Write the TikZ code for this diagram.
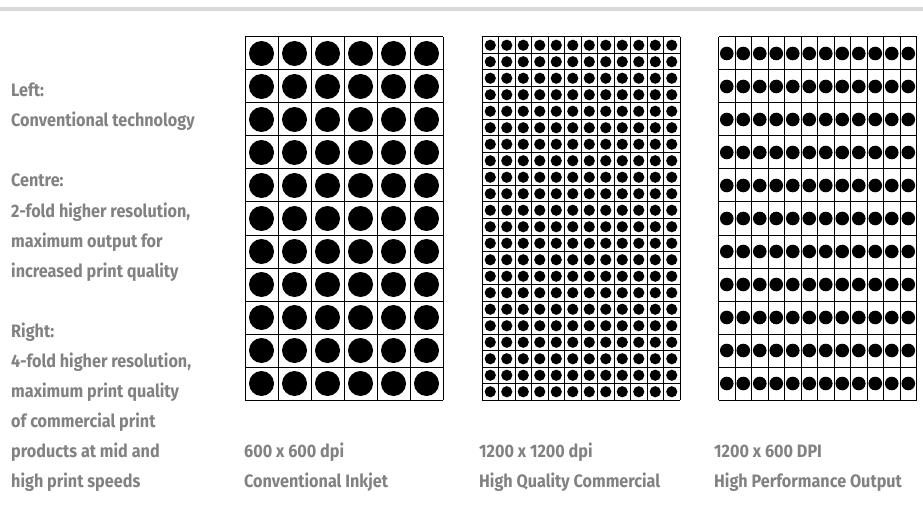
\documentclass[tikz,border=0pt]{standalone}
\usepackage{fontspec}
\setmainfont{Fira Sans}[FakeStretch=0.9]
\definecolor{txtgray}{RGB}{130,130,130}
\definecolor{rulegray}{RGB}{218,218,218}
\tikzset{
  lab/.style={anchor=base west, inner sep=0pt, text=txtgray, font=\fontsize{18}{20}\selectfont\bfseries},
  gridline/.style={line width=1pt, black},
  dotfill/.style={fill=black}
}
\begin{document}
\begin{tikzpicture}[x=1pt,y=-1pt]
\useasboundingbox (0,0) rectangle (923,513);
\fill[white] (0,0) rectangle (923,513);
\draw[rulegray, line width=3.5pt] (0,9) -- (923,9);

% Grid 1: 600 x 600
\foreach \i in {0,...,5}
  \foreach \j in {0,...,10}
    \fill[dotfill] (245+16.5+33*\i, 37+16.5+33*\j) circle[radius=12.5];
\foreach \i in {0,...,6}
  \draw[gridline] (245+33*\i,37) -- (245+33*\i,400);
\foreach \j in {0,...,11}
  \draw[gridline] (245,37+33*\j) -- (443,37+33*\j);

% Grid 2: 1200 x 1200
\foreach \i in {0,...,11}
  \foreach \j in {0,...,21}
    \fill[dotfill] (482+8.25+16.5*\i, 37+8.25+16.5*\j) circle[radius=5.6];
\foreach \i in {0,...,12}
  \draw[gridline] (482+16.5*\i,37) -- (482+16.5*\i,400);
\foreach \j in {0,...,22}
  \draw[gridline] (482,37+16.5*\j) -- (680,37+16.5*\j);

% Grid 3: 1200 x 600
\foreach \i in {0,...,11}
  \foreach \j in {0,...,10}
    \fill[dotfill] (718.5+8.25+16.5*\i, 37+16.5+33*\j) circle[radius=6.8];
\foreach \i in {0,...,12}
  \draw[gridline] (718.5+16.5*\i,37) -- (718.5+16.5*\i,400);
\foreach \j in {0,...,11}
  \draw[gridline] (718.5,37+33*\j) -- (916.5,37+33*\j);

% Left column text
\node[lab] (l1)  at (11,97)  {Left:};
\node[lab] (l2)  at (11,127) {Conventional technology};
\node[lab] (l3)  at (11,187) {Centre:};
\node[lab] (l4)  at (11,217) {2-fold higher resolution,};
\node[lab] (l5)  at (11,247) {maximum output for};
\node[lab] (l6)  at (11,277) {increased print quality};
\node[lab] (l7)  at (11,337) {Right:};
\node[lab] (l8)  at (11,367) {4-fold higher resolution,};
\node[lab] (l9)  at (11,397) {maximum print quality};
\node[lab] (l10) at (11,427) {of commercial print};
\node[lab] (l11) at (11,457) {products at mid and};
\node[lab] (l12) at (11,487) {high print speeds};

% Captions
\node[lab] (c1a) at (244,457) {600 x 600 dpi};
\node[lab] (c1b) at (244,487) {Conventional Inkjet};
\node[lab] (c2a) at (479,457) {1200 x 1200 dpi};
\node[lab] (c2b) at (479,487) {High Quality Commercial};
\node[lab] (c3a) at (714,457) {1200 x 600 DPI};
\node[lab] (c3b) at (714,487) {High Performance Output};
\end{tikzpicture}
\end{document}
